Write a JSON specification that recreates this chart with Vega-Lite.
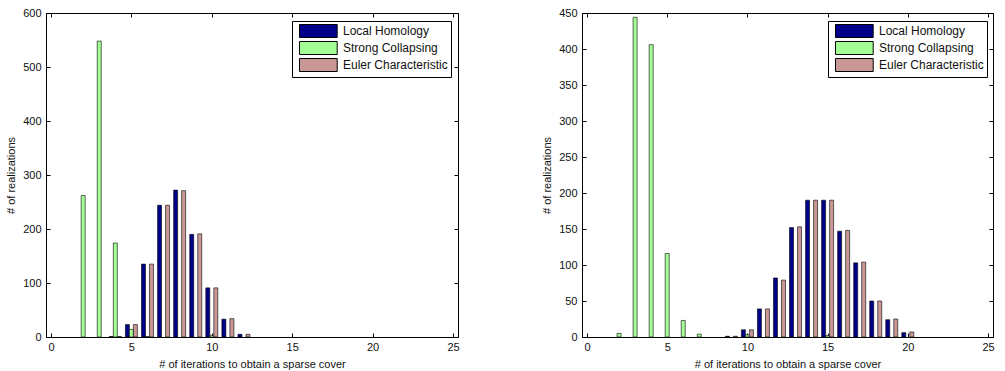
{
  "$schema": "https://vega.github.io/schema/vega-lite/v6.json",
  "padding": {"left": 5, "top": 6, "right": 4, "bottom": 0},
  "background": "white",
  "config": {
    "view": {"stroke": "black", "strokeWidth": 1},
    "font": "Liberation Sans",
    "axis": {
      "labelFont": "Liberation Sans", "labelFontSize": 11, "labelColor": "#111", "labelOverlap": false,
      "titleFont": "Liberation Sans", "titleFontSize": 11, "titleFontWeight": "normal", "titleColor": "#111",
      "domainColor": "black", "tickColor": "black", "tickSize": -4, "grid": false
    },
    "legend": {
      "labelFont": "Liberation Sans", "labelFontSize": 12, "labelColor": "#111"
    }
  },
  "datasets": {
    "left": [
      {"iter": 2, "method": "Strong Collapsing", "count": 262},
      {"iter": 3, "method": "Strong Collapsing", "count": 548},
      {"iter": 4, "method": "Strong Collapsing", "count": 174},
      {"iter": 5, "method": "Strong Collapsing", "count": 14},
      {"iter": 6, "method": "Strong Collapsing", "count": 1},
      {"iter": 10, "method": "Strong Collapsing", "count": 3},
      {"iter": 4, "method": "Local Homology", "count": 1},
      {"iter": 5, "method": "Local Homology", "count": 23},
      {"iter": 6, "method": "Local Homology", "count": 135},
      {"iter": 7, "method": "Local Homology", "count": 244},
      {"iter": 8, "method": "Local Homology", "count": 272},
      {"iter": 9, "method": "Local Homology", "count": 190},
      {"iter": 10, "method": "Local Homology", "count": 91},
      {"iter": 11, "method": "Local Homology", "count": 33},
      {"iter": 12, "method": "Local Homology", "count": 5},
      {"iter": 4, "method": "Euler Characteristic", "count": 1},
      {"iter": 5, "method": "Euler Characteristic", "count": 23},
      {"iter": 6, "method": "Euler Characteristic", "count": 135},
      {"iter": 7, "method": "Euler Characteristic", "count": 244},
      {"iter": 8, "method": "Euler Characteristic", "count": 271},
      {"iter": 9, "method": "Euler Characteristic", "count": 191},
      {"iter": 10, "method": "Euler Characteristic", "count": 91},
      {"iter": 11, "method": "Euler Characteristic", "count": 34},
      {"iter": 12, "method": "Euler Characteristic", "count": 5}
    ],
    "right": [
      {"iter": 2, "method": "Strong Collapsing", "count": 5},
      {"iter": 3, "method": "Strong Collapsing", "count": 444},
      {"iter": 4, "method": "Strong Collapsing", "count": 406},
      {"iter": 5, "method": "Strong Collapsing", "count": 116},
      {"iter": 6, "method": "Strong Collapsing", "count": 23},
      {"iter": 7, "method": "Strong Collapsing", "count": 4},
      {"iter": 10, "method": "Strong Collapsing", "count": 3},
      {"iter": 15, "method": "Strong Collapsing", "count": 2},
      {"iter": 9, "method": "Local Homology", "count": 1},
      {"iter": 10, "method": "Local Homology", "count": 10},
      {"iter": 11, "method": "Local Homology", "count": 39},
      {"iter": 12, "method": "Local Homology", "count": 82},
      {"iter": 13, "method": "Local Homology", "count": 152},
      {"iter": 14, "method": "Local Homology", "count": 190},
      {"iter": 15, "method": "Local Homology", "count": 190},
      {"iter": 16, "method": "Local Homology", "count": 147},
      {"iter": 17, "method": "Local Homology", "count": 103},
      {"iter": 18, "method": "Local Homology", "count": 50},
      {"iter": 19, "method": "Local Homology", "count": 24},
      {"iter": 20, "method": "Local Homology", "count": 6},
      {"iter": 9, "method": "Euler Characteristic", "count": 1},
      {"iter": 10, "method": "Euler Characteristic", "count": 10},
      {"iter": 11, "method": "Euler Characteristic", "count": 39},
      {"iter": 12, "method": "Euler Characteristic", "count": 79},
      {"iter": 13, "method": "Euler Characteristic", "count": 153},
      {"iter": 14, "method": "Euler Characteristic", "count": 190},
      {"iter": 15, "method": "Euler Characteristic", "count": 190},
      {"iter": 16, "method": "Euler Characteristic", "count": 148},
      {"iter": 17, "method": "Euler Characteristic", "count": 104},
      {"iter": 18, "method": "Euler Characteristic", "count": 50},
      {"iter": 19, "method": "Euler Characteristic", "count": 25},
      {"iter": 20, "method": "Euler Characteristic", "count": 7}
    ]
  },
  "hconcat": [
    {
      "width": 412, "height": 324,
      "data": {"name": "left"},
      "resolve": {"axis": {"x": "independent", "y": "independent"}},
      "layer": [
        {"transform": [{"filter": "datum.method === 'Local Homology'"}],
         "mark": {"type": "bar", "size": 4, "xOffset": -4, "stroke": "black", "strokeWidth": 0.6},
         "encoding": {
           "x": {"field": "iter", "type": "quantitative", "scale": {"domain": [0, 25], "nice": false}, "axis": {"orient": "bottom", "values": [0, 5, 10, 15, 20, 25], "title": "# of iterations to obtain a sparse cover", "labelPadding": 8, "titlePadding": 6}},
           "y": {"field": "count", "type": "quantitative", "scale": {"domain": [0, 600], "nice": false}, "axis": {"orient": "left", "values": [0, 100, 200, 300, 400, 500, 600], "title": "# of realizations", "labelPadding": 9, "titlePadding": 6}},
           "color": {"field": "method", "type": "nominal",
             "scale": {"domain": ["Local Homology", "Strong Collapsing", "Euler Characteristic"], "range": ["#000088", "#a4ff94", "#c89896"]},
             "legend": {"title": null, "orient": "none", "legendX": 246, "legendY": 8, "strokeColor": "black", "fillColor": "white", "padding": 3,
               "symbolType": "M-1,-1H4.8V1H-1Z", "symbolSize": 169, "symbolOffset": 4, "symbolStrokeColor": "black", "symbolStrokeWidth": 1, "symbolOpacity": 1,
               "rowPadding": -1, "labelOffset": 30}}
         }},
        {"transform": [{"filter": "datum.method === 'Strong Collapsing'"}],
         "mark": {"type": "bar", "size": 4, "xOffset": 0, "stroke": "black", "strokeWidth": 0.6},
         "encoding": {
           "x": {"field": "iter", "type": "quantitative", "axis": null},
           "y": {"field": "count", "type": "quantitative", "axis": null},
           "color": {"field": "method", "type": "nominal"}
         }},
        {"transform": [{"filter": "datum.method === 'Euler Characteristic'"}],
         "mark": {"type": "bar", "size": 4, "xOffset": 4, "stroke": "black", "strokeWidth": 0.6},
         "encoding": {
           "x": {"field": "iter", "type": "quantitative", "axis": {"orient": "top", "values": [0, 5, 10, 15, 20, 25], "labels": false, "title": null}},
           "y": {"field": "count", "type": "quantitative", "axis": {"orient": "right", "values": [0, 100, 200, 300, 400, 500, 600], "labels": false, "title": null}},
           "color": {"field": "method", "type": "nominal"}
         }}
      ]
    },
    {
      "width": 411, "height": 324,
      "data": {"name": "right"},
      "resolve": {"axis": {"x": "independent", "y": "independent"}},
      "layer": [
        {"transform": [{"filter": "datum.method === 'Local Homology'"}],
         "mark": {"type": "bar", "size": 4, "xOffset": -4, "stroke": "black", "strokeWidth": 0.6},
         "encoding": {
           "x": {"field": "iter", "type": "quantitative", "scale": {"domain": [0, 25], "nice": false}, "axis": {"orient": "bottom", "values": [0, 5, 10, 15, 20, 25], "title": "# of iterations to obtain a sparse cover", "labelPadding": 8, "titlePadding": 6}},
           "y": {"field": "count", "type": "quantitative", "scale": {"domain": [0, 450], "nice": false}, "axis": {"orient": "left", "values": [0, 50, 100, 150, 200, 250, 300, 350, 400, 450], "title": "# of realizations", "labelPadding": 9, "titlePadding": 6}},
           "color": {"field": "method", "type": "nominal",
             "scale": {"domain": ["Local Homology", "Strong Collapsing", "Euler Characteristic"], "range": ["#000088", "#a4ff94", "#c89896"]},
             "legend": {"title": null, "orient": "none", "legendX": 246, "legendY": 8, "strokeColor": "black", "fillColor": "white", "padding": 3,
               "symbolType": "M-1,-1H4.8V1H-1Z", "symbolSize": 169, "symbolOffset": 4, "symbolStrokeColor": "black", "symbolStrokeWidth": 1, "symbolOpacity": 1,
               "rowPadding": -1, "labelOffset": 30}}
         }},
        {"transform": [{"filter": "datum.method === 'Strong Collapsing'"}],
         "mark": {"type": "bar", "size": 4, "xOffset": 0, "stroke": "black", "strokeWidth": 0.6},
         "encoding": {
           "x": {"field": "iter", "type": "quantitative", "axis": null},
           "y": {"field": "count", "type": "quantitative", "axis": null},
           "color": {"field": "method", "type": "nominal"}
         }},
        {"transform": [{"filter": "datum.method === 'Euler Characteristic'"}],
         "mark": {"type": "bar", "size": 4, "xOffset": 4, "stroke": "black", "strokeWidth": 0.6},
         "encoding": {
           "x": {"field": "iter", "type": "quantitative", "axis": {"orient": "top", "values": [0, 5, 10, 15, 20, 25], "labels": false, "title": null}},
           "y": {"field": "count", "type": "quantitative", "axis": {"orient": "right", "values": [0, 50, 100, 150, 200, 250, 300, 350, 400, 450], "labels": false, "title": null}},
           "color": {"field": "method", "type": "nominal"}
         }}
      ]
    }
  ],
  "spacing": 81,
  "resolve": {"scale": {"y": "independent", "x": "independent"}, "legend": {"color": "independent"}}
}
